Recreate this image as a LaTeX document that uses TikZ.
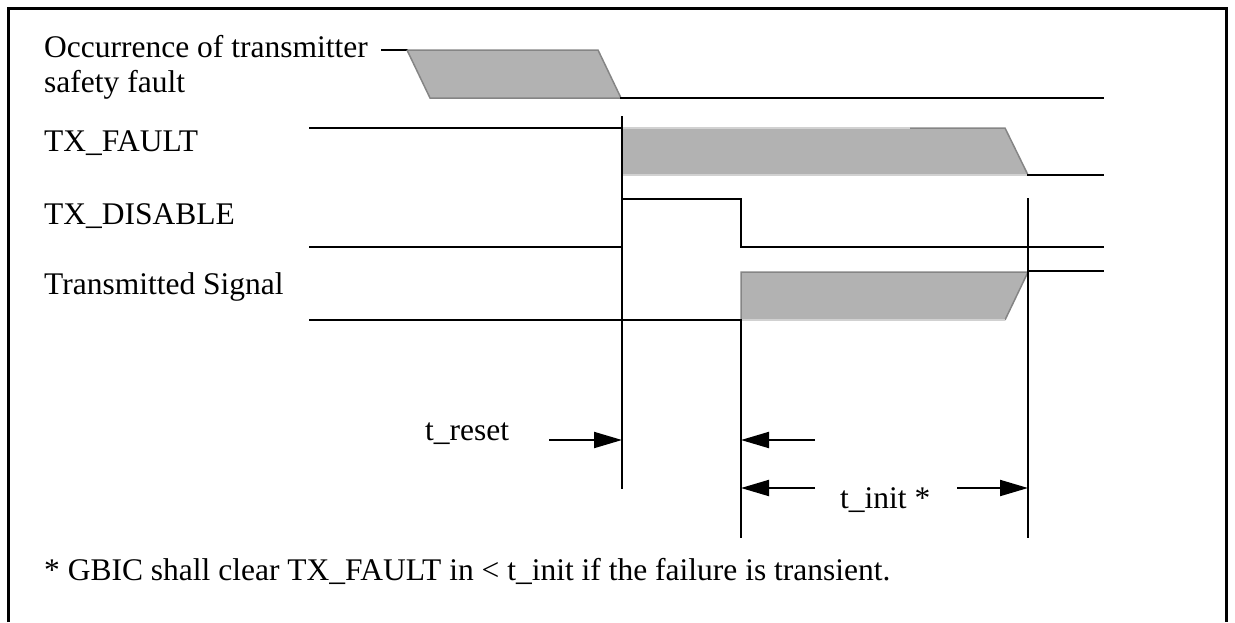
\documentclass[tikz,border=0pt]{standalone}
\usepackage{fontspec}
\setmainfont{Liberation Serif}
\usetikzlibrary{arrows.meta}
\begin{document}
\begin{tikzpicture}[x=1pt,y=-1pt,
  sig/.style={line width=2pt, line cap=rect},
  frameline/.style={line width=3pt},
  wavefill/.style={fill=black!30, draw=none},
  edgelight/.style={draw=black!18, line width=1.5pt},
  edgedark/.style={draw=black!48, line width=1.5pt},
  lbl/.style={anchor=base west, inner sep=0pt, font=\fontsize{31.5}{36}\selectfont},
  dimarrow/.style={line width=2pt, -{Triangle[length=28pt,width=16pt]}}]
\useasboundingbox (0,0) rectangle (1235,622);
% frame (open at bottom)
\draw[frameline] (8,622) -- (8,8) -- (1226,8) -- (1226,622);

% labels
\node[lbl] (occ1) at (44,57) {Occurrence of transmitter};
\node[lbl] (occ2) at (44,92) {safety fault};
\node[lbl] (txf) at (44,151) {TX\_FAULT};
\node[lbl] (txd) at (44,224) {TX\_DISABLE};
\node[lbl] (txs) at (44,294) {Transmitted Signal};

% time markers
\coordinate (tfault) at (622,0);
\coordinate (tdis) at (741,0);
\coordinate (tinit) at (1028,0);

% occurrence of fault
\draw[sig] (382,50) -- (407,50);
\fill[black!30] (407,50) -- (598,50) -- (621,98) -- (430,98) -- cycle;
\draw[edgedark] (407,50) -- (598,50) -- (621,98);
\draw[edgedark] (407,50) -- (430,98) -- (621,98);
\draw[sig] (621,98) -- (1103,98);

% TX_FAULT
\draw[sig] (310,128) -- (622,128);
\fill[black!30] (622,128) -- (1005,128) -- (1028,175) -- (622,175) -- cycle;
\draw[edgelight] (622,128) -- (910,128);
\draw[edgedark] (910,128) -- (1005,128) -- (1028,175);
\draw[edgelight] (622,175) -- (1028,175);
\draw[sig] (1028,175) -- (1103,175);

% TX_DISABLE
\draw[sig] (310,247) -- (622,247);
\draw[sig] (622,199) -- (741,199) -- (741,247) -- (1103,247);

% Transmitted signal
\draw[sig] (310,320) -- (741,320);
\fill[black!30] (741,272) -- (1028,272) -- (1005,320) -- (741,320) -- cycle;
\draw[edgedark] (741,320) -- (741,272) -- (1028,272) -- (1005,320);
\draw[edgelight] (741,320) -- (1005,320);
\draw[sig] (1028,271) -- (1103,271);

% vertical time lines
\draw[sig] (tfault |- 0,117) -- (tfault |- 0,488);
\draw[sig] (tdis |- 0,320) -- (tdis |- 0,537);
\draw[sig] (tinit |- 0,199) -- (tinit |- 0,537);

% dimension arrows
\coordinate (ar1) at (622,440);
\coordinate (ar2) at (741,440);
\coordinate (ar3) at (741,488);
\coordinate (ar4) at (1028,488);
\draw[dimarrow] (549,440) -- (ar1);
\draw[dimarrow] (815,440) -- (ar2);
\draw[dimarrow] (815,488) -- (ar3);
\draw[dimarrow] (957,488) -- (ar4);
\node[lbl] (treset) at (425,440) {t\_reset};
\node[lbl] (tinitl) at (840,508) {t\_init *};

% footnote
\node[lbl] (note) at (44,580) {* GBIC shall clear TX\_FAULT in < t\_init if the failure is transient.};
\end{tikzpicture}
\end{document}
